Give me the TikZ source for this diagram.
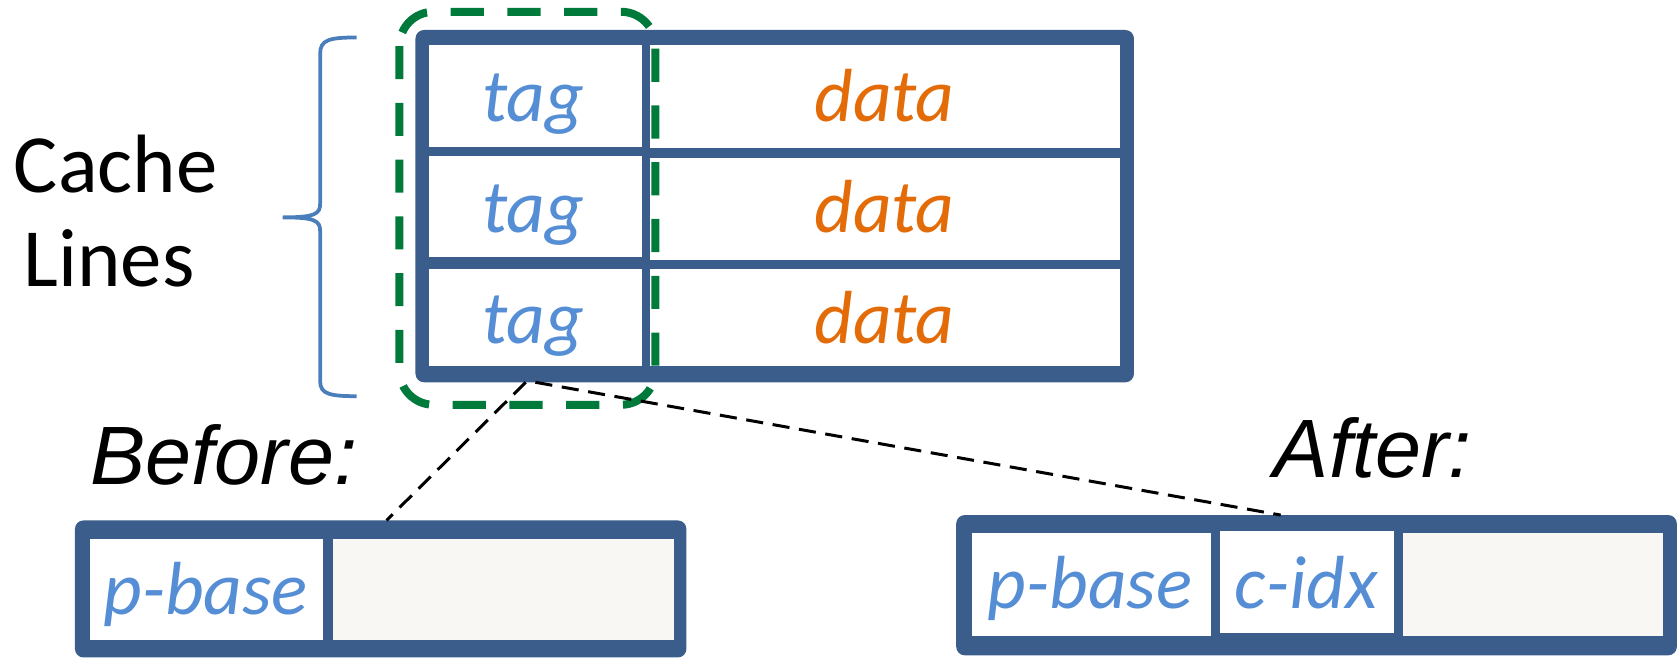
\documentclass[tikz,border=0pt]{standalone}
\usepackage{fontspec}
\setmainfont{Carlito}
\newfontfamily\arialfont{Liberation Sans}
\definecolor{tblue}{HTML}{3A5D8B}
\definecolor{tagblue}{HTML}{558ED5}
\definecolor{dataorange}{HTML}{E36C09}
\definecolor{dashgreen}{HTML}{007A3A}
\definecolor{bracecol}{HTML}{4A7EBB}
\definecolor{cellgrey}{HTML}{F8F7F4}
\begin{document}
\begin{tikzpicture}[x=0.1mm,y=-0.1mm,
  frame/.style={fill=tblue, rounded corners=0.8mm},
  cellw/.style={fill=white},
  cellg/.style={fill=cellgrey},
  tagtxt/.style={font=\fontsize{20pt}{24pt}\selectfont\itshape, text=tagblue, anchor=base, inner sep=0pt},
  datatxt/.style={font=\fontsize{20pt}{24pt}\selectfont\itshape, text=dataorange, anchor=base, inner sep=0pt},
  bigtxt/.style={font=\fontsize{22pt}{26pt}\selectfont, anchor=base, inner sep=0pt},
  phase/.style={font=\fontsize{22pt}{26pt}\selectfont\arialfont\itshape, anchor=base, inner sep=0pt},
  brace/.style={draw=bracecol, line width=0.35mm},
  groupline/.style={draw=dashgreen, line width=0.75mm, dash pattern=on 3.1mm off 2.2mm, rounded corners=3.2mm},
  zoomline/.style={draw=black, line width=0.28mm, dash pattern=on 1.6mm off 0.9mm}]
\useasboundingbox (0,0) rectangle (1568,614);

% cache table: three lines of tag and data
\fill[frame] (388,28) rectangle (1059,357);
\fill[cellw] (401,42) rectangle (600,137);
\fill[cellw] (401,146) rectangle (600,240);
\fill[cellw] (401,251) rectangle (600,342);
\fill[cellw] (607,42) rectangle (1046,138);
\fill[cellw] (607,148) rectangle (1046,243);
\fill[cellw] (607,251) rectangle (1046,342);
\node[tagtxt] (tag1) at (498,113) {tag};
\node[tagtxt] (tag2) at (498,217) {tag};
\node[tagtxt] (tag3) at (498,321) {tag};
\node[datatxt] (data1) at (826,113) {data};
\node[datatxt] (data2) at (826,217) {data};
\node[datatxt] (data3) at (826,321) {data};

% tag column highlight
\draw[groupline] (373,11) rectangle (612,378);

% brace and its label
\draw[brace] (333,35) .. controls (308,35) and (299,37) .. (299,50)
  -- (299,190) .. controls (299,200) and (294,203) .. (264,203)
  .. controls (294,203) and (299,206) .. (299,216)
  -- (299,356) .. controls (299,368) and (308,370) .. (333,370);
\node[bigtxt] (cache) at (108,180) {Cache};
\node[bigtxt] (lines) at (102,268) {Lines};

% tag layout before
\node[phase] (before) at (209,452) {Before:};
\fill[frame] (70,486) rectangle (641,614);
\fill[cellw] (84,503) rectangle (302,598);
\fill[cellg] (311,503) rectangle (629,598);
\node[tagtxt] (pbase1) at (192,574) {p-base};

% tag layout after
\node[phase] (after) at (1282,446) {After:};
\fill[frame] (893,481) rectangle (1566,612);
\fill[cellw] (908,498) rectangle (1131,594);
\fill[cellw] (1139,496) rectangle (1302,591);
\fill[cellg] (1310,498) rectangle (1553,594);
\node[tagtxt] (pbase2) at (1018,568) {p-base};
\node[tagtxt] (cidx) at (1220,568) {c-idx};

% zoom lines from the tag column to both layouts
\coordinate (tagfootA) at (491,357);
\coordinate (tagfootB) at (500,357);
\coordinate (beforetop) at (361,486);
\coordinate (aftertop) at (1196,481);
\draw[zoomline] (tagfootA) -- (beforetop);
\draw[zoomline] (tagfootB) -- (aftertop);
\end{tikzpicture}
\end{document}
